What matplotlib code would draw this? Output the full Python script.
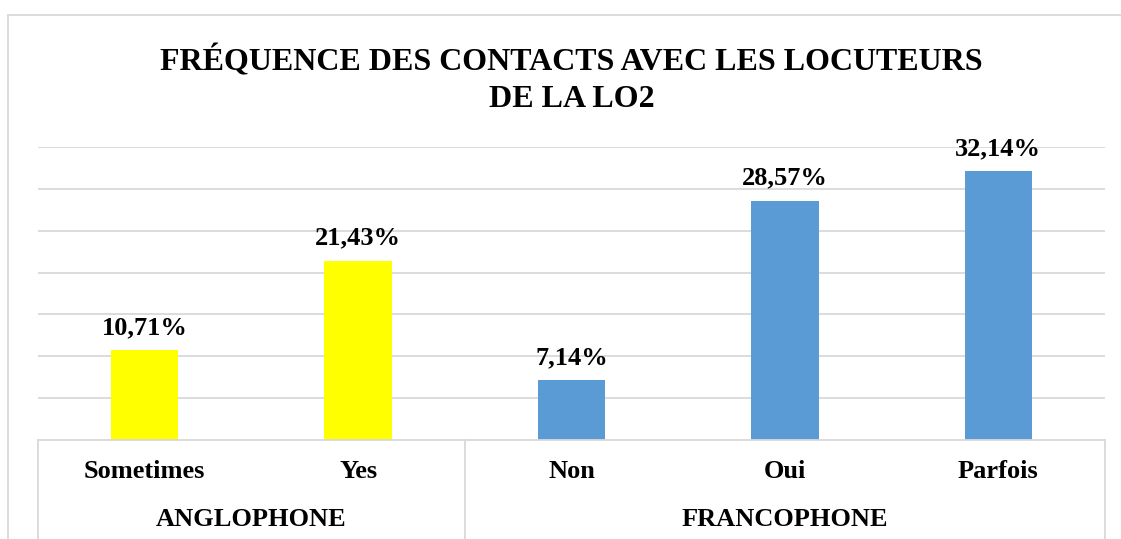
import matplotlib.pyplot as plt
from matplotlib.lines import Line2D

plt.rcParams['font.family'] = ['Liberation Serif', 'DejaVu Serif']

categories = ['Sometimes', 'Yes', 'Non', 'Oui', 'Parfois']
values = [10.71, 21.43, 7.14, 28.57, 32.14]
groups = ['ANGLOPHONE', 'FRANCOPHONE']
group_sizes = [2, 3]
colors = ['#ffff00', '#ffff00', '#5b9bd5', '#5b9bd5', '#5b9bd5']
title = "FRÉQUENCE DES CONTACTS AVEC LES LOCUTEURS\nDE LA LO2"

W, H = 1121, 539
fig = plt.figure(figsize=(W / 100, H / 100), dpi=100)

# plot area in pixels
x0, x1 = 38, 1105
y_base, y_top = 440, 147
ax = fig.add_axes([x0 / W, (H - y_base) / H, (x1 - x0) / W, (y_base - y_top) / H])

xs = range(len(categories))
ax.bar(xs, values, width=0.315, color=colors, zorder=3)
ax.set_xlim(-0.5, len(categories) - 0.5)
ax.set_ylim(0, 35)
ax.set_yticks(range(5, 36, 5))
ax.yaxis.grid(True, color='#d9d9d9', linewidth=1.3)
ax.set_xticks([])
ax.tick_params(left=False, labelleft=False)
for s in ax.spines.values():
    s.set_visible(False)

for x, v in zip(xs, values):
    ax.annotate(f"{v:.2f}%".replace('.', ','), (x, v), xytext=(0, 8),
                textcoords='offset points', ha='center', va='bottom',
                fontsize=19, fontweight='bold')

# category box under the axis
lc = '#d9d9d9'
def fline(xa, ya, xb, yb):
    fig.add_artist(Line2D([xa / W, xb / W], [1 - ya / H, 1 - yb / H],
                          color=lc, linewidth=1.3))

slot = (x1 - x0) / len(categories)
fline(x0, y_base, x1, y_base)
fline(x0, y_base, x0, H)
fline(x1, y_base, x1, H)
start = 0
for g, n in zip(groups, group_sizes):
    gx = x0 + (start + n / 2) * slot
    fig.text(gx / W, 1 - 519 / H, g, ha='center', va='center',
             fontsize=19, fontweight='bold')
    start += n
    if start < len(categories):
        fline(x0 + start * slot, y_base, x0 + start * slot, H)

for i, c in enumerate(categories):
    cx = x0 + (i + 0.5) * slot
    fig.text(cx / W, 1 - 472 / H, c, ha='center', va='center',
             fontsize=19, fontweight='bold')

# outer chart border
fline(8, 15, W, 15)
fline(8, 15, 8, H)

fig.text((x0 + x1) / 2 / W, 1 - 80 / H, title, ha='center', va='center',
         fontsize=23, fontweight='bold', linespacing=1.35)

fig.savefig('out.png', dpi=100)
